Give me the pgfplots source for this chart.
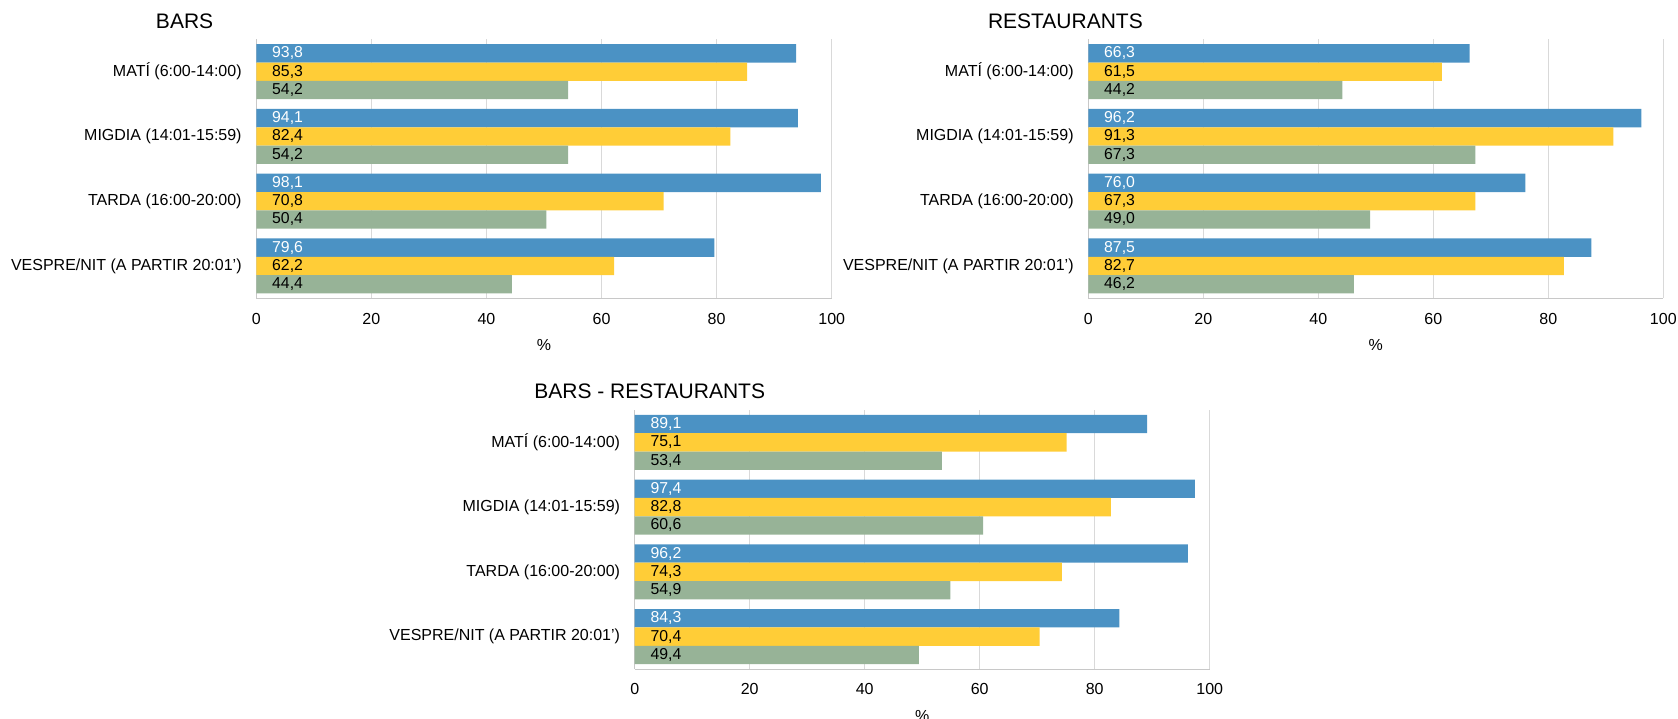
\documentclass[border=0pt]{standalone}
\usepackage{pgfplots}
\usepackage{pgfplotstable}
\pgfplotsset{compat=1.18}
\usepackage{fontspec}
\setmainfont{Liberation Sans}

\definecolor{cblue}{RGB}{75,146,196}
\definecolor{cyellow}{RGB}{255,205,55}
\definecolor{cgreen}{RGB}{151,179,151}
\definecolor{cgrid}{RGB}{217,217,217}
\definecolor{caxis}{RGB}{200,200,200}

\pgfplotstableread{
idx blue yellow green
0 93.8 85.3 54.2
1 94.1 82.4 54.2
2 98.1 70.8 50.4
3 79.6 62.2 44.4
}\tbars
\pgfplotstableread{
idx blue yellow green
0 66.3 61.5 44.2
1 96.2 91.3 67.3
2 76.0 67.3 49.0
3 87.5 82.7 46.2
}\trest
\pgfplotstableread{
idx blue yellow green
0 89.1 75.1 53.4
1 97.4 82.8 60.6
2 96.2 74.3 54.9
3 84.3 70.4 49.4
}\tboth

\pgfplotsset{
  common/.style={
    scale only axis,
    anchor=south west,
    height=259pt,
    xmin=0, xmax=100,
    ymin=-0.5, ymax=3.5,
    y dir=reverse,
    enlargelimits=false,
    xtick={0,20,40,60,80,100},
    ytick={0,1,2,3},
    yticklabels={MATÍ (6:00-14:00),MIGDIA (14:01-15:59),TARDA (16:00-20:00),VESPRE/NIT (A PARTIR 20:01’)},
    major tick length=0pt,
    minor tick num=0,
    xmajorgrids,
    grid style={cgrid, line width=0.8pt},
    axis x line*=bottom,
    axis y line*=left,
    axis line style={caxis, line width=0.9pt, -},
    /pgf/number format/assume math mode=true,
    tick label style={font=\fontsize{16}{19}\selectfont, text=black},
    xticklabel style={anchor=north, inner sep=0pt, yshift=-14.5pt},
    yticklabel style={anchor=east, inner sep=0pt, xshift=-14.5pt},
    xlabel={\%},
    xlabel style={at={(axis description cs:0.5,0)}, anchor=center, yshift=-46.7pt, font=\fontsize{16}{19}\selectfont},
    title style={at={(axis description cs:0,1)}, anchor=west, xshift=-100.5pt, yshift=12.5pt, inner sep=0pt, font=\fontsize{21}{25}\selectfont},
  },
  lbl/.style={draw=none, mark=none,
      nodes near coords, point meta=explicit,
      nodes near coords style={anchor=west, inner sep=0pt, xshift=15.7pt,
        font=\fontsize{15.8}{18}\selectfont, text=#1,
        /pgf/number format/fixed, /pgf/number format/fixed zerofill,
        /pgf/number format/precision=1, /pgf/number format/use comma,
        /pgf/number format/assume math mode=true}},
}

\newcommand{\drawbars}[1]{%
  \addplot[xbar, bar width=0.283, bar shift=-0.283, fill=cblue, draw=none] table[x=blue, y=idx] {#1};
  \addplot[xbar, bar width=0.283, bar shift=0, fill=cyellow, draw=none] table[x=yellow, y=idx] {#1};
  \addplot[xbar, bar width=0.283, bar shift=0.283, fill=cgreen, draw=none] table[x=green, y=idx] {#1};
  \addplot[lbl=white] table[x expr=0, y expr=\thisrow{idx}-0.283, meta=blue] {#1};
  \addplot[lbl=black] table[x expr=0, y expr=\thisrow{idx}, meta=yellow] {#1};
  \addplot[lbl=black] table[x expr=0, y expr=\thisrow{idx}+0.283, meta=green] {#1};
}

\begin{document}
\begin{tikzpicture}
\path[use as bounding box] (0pt,0pt) rectangle (1678pt,719pt);
\begin{axis}[common, at={(256.3pt,420.7pt)}, width=575.4pt, title={BARS}]
\drawbars{\tbars}
\end{axis}
\begin{axis}[common, at={(1088.3pt,420.7pt)}, width=575pt, title={RESTAURANTS}]
\drawbars{\trest}
\end{axis}
\begin{axis}[common, at={(634.7pt,50pt)}, width=575pt, title={BARS - RESTAURANTS}]
\drawbars{\tboth}
\end{axis}
\end{tikzpicture}
\end{document}
